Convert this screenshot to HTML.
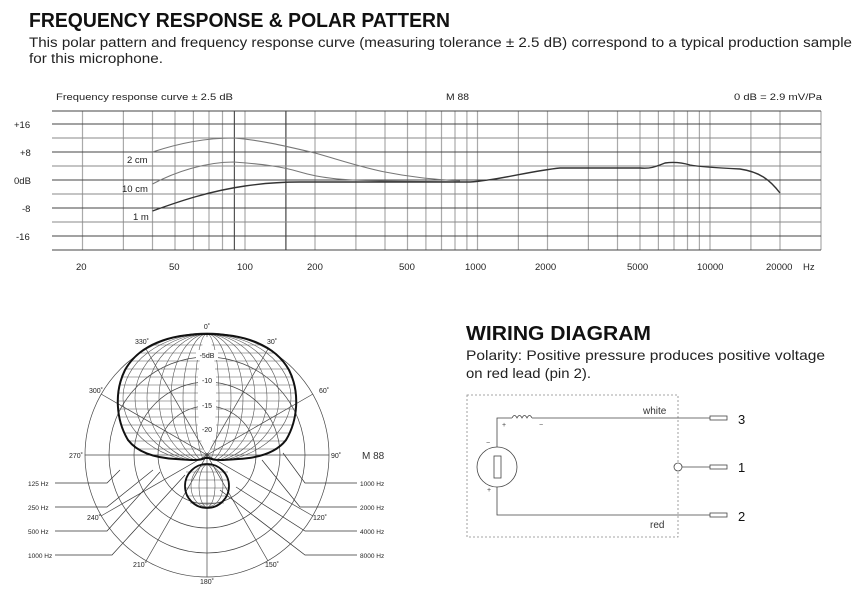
<!DOCTYPE html>
<html><head><meta charset="utf-8"><style>
html,body{margin:0;padding:0;background:#fff;width:866px;height:600px;overflow:hidden}
svg{display:block}
</style></head><body>
<svg width="866" height="600" viewBox="0 0 866 600" xmlns="http://www.w3.org/2000/svg" font-family="Liberation Sans, sans-serif">
<text x="29" y="27" font-size="20" font-weight="900" fill="#111" textLength="421" lengthAdjust="spacingAndGlyphs">FREQUENCY RESPONSE &amp; POLAR PATTERN</text>
<text x="29" y="47" font-size="13.5" fill="#222" textLength="823" lengthAdjust="spacingAndGlyphs">This polar pattern and frequency response curve (measuring tolerance ± 2.5 dB) correspond to a typical production sample</text>
<text x="29" y="63" font-size="13.5" fill="#222" textLength="134" lengthAdjust="spacingAndGlyphs">for this microphone.</text>

<!-- freq chart -->
<text x="56" y="100" font-size="9.5" fill="#222" textLength="177" lengthAdjust="spacingAndGlyphs">Frequency response curve ± 2.5 dB</text>
<text x="446" y="100" font-size="9.5" fill="#222" textLength="23" lengthAdjust="spacingAndGlyphs">M 88</text>
<text x="734" y="100" font-size="9.5" fill="#222" textLength="88" lengthAdjust="spacingAndGlyphs">0 dB = 2.9 mV/Pa</text>
<g stroke="#aaa" stroke-width="1.2">
<line x1="82.5" y1="111" x2="82.5" y2="250"/><line x1="123.4" y1="111" x2="123.4" y2="250"/><line x1="152.5" y1="111" x2="152.5" y2="250"/><line x1="175" y1="111" x2="175" y2="250"/><line x1="193.4" y1="111" x2="193.4" y2="250"/><line x1="209" y1="111" x2="209" y2="250"/><line x1="222.5" y1="111" x2="222.5" y2="250"/><line x1="234.4" y1="111" x2="234.4" y2="250" stroke="#555"/><line x1="245" y1="111" x2="245" y2="250"/><line x1="285.9" y1="111" x2="285.9" y2="250" stroke="#444"/><line x1="315" y1="111" x2="315" y2="250"/><line x1="355.9" y1="111" x2="355.9" y2="250"/><line x1="385" y1="111" x2="385" y2="250"/><line x1="407.5" y1="111" x2="407.5" y2="250"/><line x1="425.9" y1="111" x2="425.9" y2="250"/><line x1="441.5" y1="111" x2="441.5" y2="250"/><line x1="455" y1="111" x2="455" y2="250"/><line x1="466.9" y1="111" x2="466.9" y2="250"/><line x1="477.5" y1="111" x2="477.5" y2="250"/><line x1="518.4" y1="111" x2="518.4" y2="250"/><line x1="547.5" y1="111" x2="547.5" y2="250"/><line x1="588.4" y1="111" x2="588.4" y2="250"/><line x1="617.5" y1="111" x2="617.5" y2="250"/><line x1="640" y1="111" x2="640" y2="250"/><line x1="658.4" y1="111" x2="658.4" y2="250"/><line x1="674" y1="111" x2="674" y2="250"/><line x1="687.5" y1="111" x2="687.5" y2="250"/><line x1="699.4" y1="111" x2="699.4" y2="250"/><line x1="710" y1="111" x2="710" y2="250"/><line x1="750.9" y1="111" x2="750.9" y2="250"/><line x1="780" y1="111" x2="780" y2="250"/><line x1="821" y1="111" x2="821" y2="250"/>
</g>
<g stroke="#444" stroke-width="1">
<line x1="52" y1="111" x2="821" y2="111"/><line x1="52" y1="124" x2="821" y2="124"/><line x1="52" y1="138" x2="821" y2="138" stroke="#888"/><line x1="52" y1="152" x2="821" y2="152"/><line x1="52" y1="166" x2="821" y2="166" stroke="#888"/><line x1="52" y1="180" x2="821" y2="180"/><line x1="52" y1="194" x2="821" y2="194" stroke="#888"/><line x1="52" y1="208" x2="821" y2="208"/><line x1="52" y1="222" x2="821" y2="222" stroke="#888"/><line x1="52" y1="236" x2="821" y2="236"/><line x1="52" y1="250" x2="821" y2="250"/>
</g>
<g font-size="9.5" fill="#222">
<text x="14" y="128">+16</text><text x="20" y="156">+8</text><text x="14" y="184">0dB</text><text x="22" y="212">-8</text><text x="16" y="240">-16</text>
<text x="76" y="270">20</text><text x="169" y="270">50</text><text x="237" y="270">100</text><text x="307" y="270">200</text><text x="399" y="270">500</text><text x="465" y="270">1000</text><text x="535" y="270">2000</text><text x="627" y="270">5000</text><text x="697" y="270">10000</text><text x="766" y="270">20000</text><text x="803" y="270">Hz</text>
<text x="127" y="163">2 cm</text><text x="122" y="192">10 cm</text><text x="133" y="220">1 m</text>
</g>
<g fill="none" stroke-width="1.1">
<path d="M152.5 152 C180 143,205 138,234 138 C260 140,285 146,315 153 C340 160,360 167,385 172 C410 177,430 179,460 181" stroke="#777"/>
<path d="M152.5 184 C175 172,205 162,234 162 C260 164,280 166,300 172 C320 178,340 180,380 181 L460 182" stroke="#777"/>
<path d="M152.5 211 C180 201,210 191,245 186 C265 183,280 182,300 182 L470 182 C500 180,530 171,560 168 L640 168 C650 169,655 167,665 163 C672 162,680 162,690 165 C700 167,720 168,740 169 C760 172,770 180,780 193" stroke="#333" stroke-width="1.4"/>
</g>

<!-- polar -->
<defs><clipPath id="lobe"><path d="M207 334 C245 334,275 345,289 370 C300 392,298 420,286 440 C276 453,258 458,238 459 C225 460,214 461,209 458 L205 458 C200 461,189 460,176 459 C156 458,138 453,128 440 C116 420,114 392,125 370 C139 345,169 334,207 334 Z"/></clipPath></defs>
<g fill="none" stroke="#444" stroke-width="0.7">
<circle cx="207" cy="455" r="122"/><circle cx="207" cy="455" r="98"/><circle cx="207" cy="455" r="73"/><circle cx="207" cy="455" r="49"/>
<line x1="207" y1="333" x2="207" y2="577"/><line x1="85" y1="455" x2="329" y2="455"/>
<line x1="146" y1="349" x2="268" y2="561"/><line x1="268" y1="349" x2="146" y2="561"/>
<line x1="101" y1="394" x2="313" y2="516"/><line x1="313" y1="394" x2="101" y2="516"/>
</g>
<g clip-path="url(#lobe)" stroke="#555" stroke-width="0.6" fill="none">
<line x1="100" y1="345" x2="310" y2="345"/><line x1="100" y1="353" x2="310" y2="353"/><line x1="100" y1="361" x2="310" y2="361"/><line x1="100" y1="369" x2="310" y2="369"/><line x1="100" y1="377" x2="310" y2="377"/><line x1="100" y1="385" x2="310" y2="385"/><line x1="100" y1="393" x2="310" y2="393"/><line x1="100" y1="401" x2="310" y2="401"/><line x1="100" y1="409" x2="310" y2="409"/><line x1="100" y1="417" x2="310" y2="417"/><line x1="100" y1="425" x2="310" y2="425"/><line x1="100" y1="433" x2="310" y2="433"/><line x1="100" y1="441" x2="310" y2="441"/><line x1="100" y1="449" x2="310" y2="449"/>
<ellipse cx="207" cy="398" rx="12" ry="64"/><ellipse cx="207" cy="398" rx="24" ry="64"/><ellipse cx="207" cy="398" rx="36" ry="64"/><ellipse cx="207" cy="398" rx="48" ry="64"/><ellipse cx="207" cy="398" rx="60" ry="64"/><ellipse cx="207" cy="398" rx="72" ry="64"/><ellipse cx="207" cy="398" rx="84" ry="64"/>
</g>
<ellipse cx="207" cy="395" rx="9" ry="58" fill="#fff"/>
<path d="M207 334 C245 334,275 345,289 370 C300 392,298 420,286 440 C276 453,258 458,238 459 C225 460,214 461,209 458 L205 458 C200 461,189 460,176 459 C156 458,138 453,128 440 C116 420,114 392,125 370 C139 345,169 334,207 334 Z" fill="none" stroke="#111" stroke-width="2"/>
<g stroke="#555" stroke-width="0.6" fill="none">
<line x1="186" y1="472" x2="228" y2="472"/><line x1="185" y1="480" x2="229" y2="480"/><line x1="185" y1="488" x2="229" y2="488"/><line x1="186" y1="496" x2="228" y2="496"/><line x1="190" y1="503" x2="224" y2="503"/>
<ellipse cx="207" cy="486" rx="8" ry="21"/><ellipse cx="207" cy="486" rx="16" ry="21"/>
</g>
<ellipse cx="207" cy="486" rx="22" ry="22" fill="none" stroke="#111" stroke-width="1.8"/>
<g font-size="7" fill="#222" text-anchor="middle">
<rect x="196" y="350" width="22" height="10" fill="#fff"/><text x="207" y="358">-5dB</text>
<rect x="198" y="375" width="18" height="10" fill="#fff"/><text x="207" y="383">-10</text>
<rect x="198" y="400" width="18" height="10" fill="#fff"/><text x="207" y="408">-15</text>
<rect x="198" y="424" width="18" height="10" fill="#fff"/><text x="207" y="432">-20</text>
<text x="207" y="329">0˚</text><text x="142" y="344">330˚</text><text x="272" y="344">30˚</text>
<text x="96" y="393">300˚</text><text x="324" y="393">60˚</text><text x="76" y="458">270˚</text><text x="336" y="458">90˚</text>
<text x="94" y="520">240˚</text><text x="320" y="520">120˚</text><text x="140" y="567">210˚</text><text x="272" y="567">150˚</text><text x="207" y="584">180˚</text>
</g>
<text x="362" y="459" font-size="10" fill="#333">M 88</text>
<g font-size="6.5" fill="#222">
<text x="28" y="486">125 Hz</text><text x="28" y="510">250 Hz</text><text x="28" y="534">500 Hz</text><text x="28" y="558">1000 Hz</text>
<text x="360" y="486">1000 Hz</text><text x="360" y="510">2000 Hz</text><text x="360" y="534">4000 Hz</text><text x="360" y="558">8000 Hz</text>
</g>
<g stroke="#333" stroke-width="0.7" fill="none">
<polyline points="55,483 107,483 120,470"/><polyline points="55,507 107,507 153,470"/><polyline points="55,531 107,531 160,472"/><polyline points="55,555 112,555 185,475"/>
<polyline points="357,483 305,483 283,453"/><polyline points="357,507 300,507 262,460"/><polyline points="357,531 305,531 236,487"/><polyline points="357,555 305,555 220,490"/>
</g>

<!-- wiring -->
<text x="466" y="340" font-size="20" font-weight="900" fill="#111" textLength="185" lengthAdjust="spacingAndGlyphs">WIRING DIAGRAM</text>
<text x="466" y="360" font-size="14" fill="#222" textLength="359" lengthAdjust="spacingAndGlyphs">Polarity: Positive pressure produces positive voltage</text>
<text x="466" y="378" font-size="14" fill="#222" textLength="125" lengthAdjust="spacingAndGlyphs">on red lead (pin 2).</text>
<rect x="467" y="395" width="211" height="142" fill="none" stroke="#888" stroke-width="0.8" stroke-dasharray="2,2"/>
<g stroke="#444" stroke-width="0.8" fill="none">
<polyline points="497,447 497,418 512,418"/>
<path d="M512 418 q2.5 -5 5 0 q2.5 -5 5 0 q2.5 -5 5 0 q2.5 -5 5 0"/>
<line x1="532" y1="418" x2="710" y2="418"/>
<circle cx="497" cy="467" r="20"/>
<rect x="494" y="456" width="7" height="22"/>
<polyline points="497,487 497,515 710,515"/>
<circle cx="678" cy="467" r="4" fill="#fff"/>
<line x1="682" y1="467" x2="710" y2="467"/>
<rect x="710" y="416" width="17" height="4"/><rect x="710" y="465" width="17" height="4"/><rect x="710" y="513" width="17" height="4"/>
</g>
<g font-size="7" fill="#444"><text x="502" y="427">+</text><text x="539" y="427">−</text><text x="486" y="445">−</text><text x="487" y="492">+</text></g>
<text x="643" y="414" font-size="10" fill="#333">white</text>
<text x="650" y="528" font-size="10" fill="#333">red</text>
<g font-size="13" fill="#111"><text x="738" y="424">3</text><text x="738" y="472">1</text><text x="738" y="521">2</text></g>
</svg>
</body></html>
